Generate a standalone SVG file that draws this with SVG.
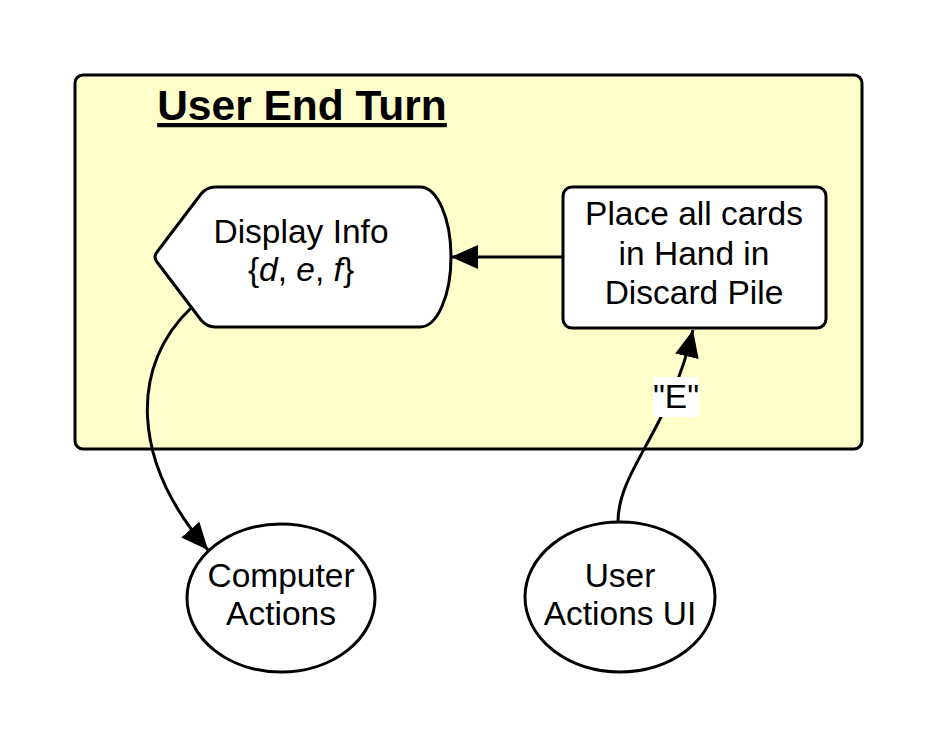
<svg xmlns="http://www.w3.org/2000/svg" width="938" height="750" viewBox="0 0 938 750">
<style>
.shape{fill:#ffffff;stroke:#000;stroke-width:3;stroke-linejoin:round}
.txt{font-family:"Liberation Sans",Arial,sans-serif;font-size:33.5px;fill:#000;text-anchor:middle}
.edge{fill:none;stroke:#000;stroke-width:3}
</style>
<defs>
<marker id="arrow" markerUnits="userSpaceOnUse" markerWidth="30" markerHeight="26" refX="27" refY="12" orient="auto">
<path d="M0,0 L27,12 L0,24 Z" fill="#000"/>
</marker>
</defs>
<rect width="938" height="750" fill="#ffffff"/>
<g id="container">
<rect x="75" y="75" width="787" height="374" rx="8" ry="8" fill="#ffffcc" stroke="#000" stroke-width="3"/>
<text x="302" y="120" style="font-family:'Liberation Sans',Arial,sans-serif;font-size:42.5px;font-weight:bold;text-anchor:middle" text-decoration="underline">User End Turn</text>
</g>
<g id="connectors">
<path class="edge" d="M563,257 L451,257" marker-end="url(#arrow)"/>
<path class="edge" d="M192,307 C130,365 130,460 208,550" marker-end="url(#arrow)"/>
<path class="edge" d="M618,522 C618,470 670,430 693,330" marker-end="url(#arrow)"/>
<rect x="653" y="377" width="46" height="40" fill="#ffffff"/>
<text class="txt" x="676" y="408">"E"</text>
</g>
<g id="display-info">
<path class="shape" d="M215,187 L420,187 A31,70 0 0 1 420,327 L215,327 Q207,327 201,320 L157,262 Q153,257 157,252 L201,194 Q207,187 215,187 Z"/>
<text class="txt" x="301" y="243">Display Info</text>
<text class="txt" x="301" y="281">{<tspan font-style="italic">d</tspan>, <tspan font-style="italic">e</tspan>, <tspan font-style="italic">f</tspan>}</text>
</g>
<g id="place-cards">
<rect class="shape" x="563" y="187" width="263" height="141" rx="9" ry="9"/>
<text class="txt" x="694" y="225">Place all cards</text>
<text class="txt" x="694" y="265">in Hand in</text>
<text class="txt" x="694" y="304">Discard Pile</text>
</g>
<g id="computer-actions">
<ellipse class="shape" cx="281" cy="598" rx="94" ry="74"/>
<text class="txt" x="281" y="587">Computer</text>
<text class="txt" x="281" y="625">Actions</text>
</g>
<g id="user-actions-ui">
<ellipse class="shape" cx="620" cy="597" rx="95" ry="75"/>
<text class="txt" x="620" y="587">User</text>
<text class="txt" x="620" y="625">Actions UI</text>
</g>
</svg>
